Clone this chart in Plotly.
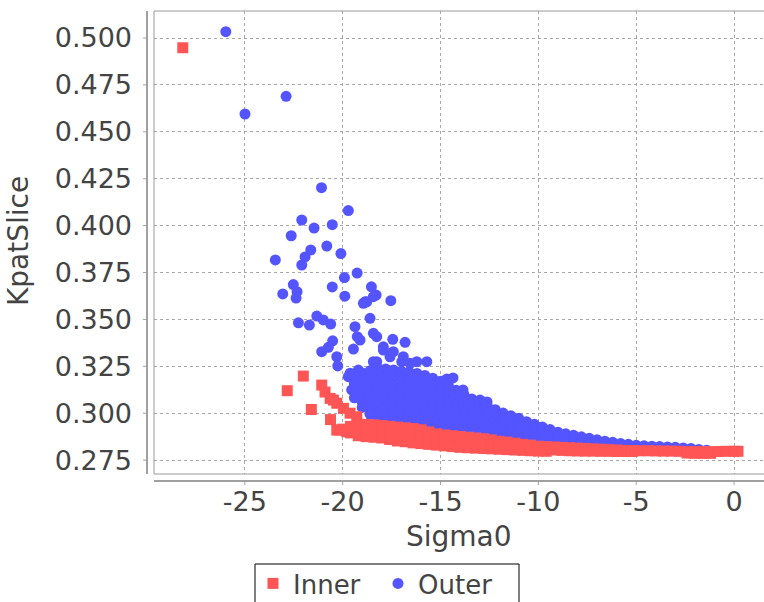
import plotly.graph_objects as go

# ---------------- data ----------------
x_ticks = [-25, -20, -15, -10, -5, 0]
x_tick_labels = ["-25", "-20", "-15", "-10", "-5", "0"]
y_ticks = [0.275, 0.300, 0.325, 0.350, 0.375, 0.400, 0.425, 0.450, 0.475, 0.500]
y_tick_labels = ["0.275", "0.300", "0.325", "0.350", "0.375", "0.400", "0.425", "0.450", "0.475", "0.500"]

# Outer (blue circles) - scattered points
outer_sparse_x = [-25.97, -24.99, -22.89, -21.08, -19.71, -22.09, -21.46, -20.53, -22.63, -20.81,
                  -21.63, -20.09, -21.92, -22.09, -23.44, -19.91, -19.26, -22.52, -23.06, -22.33,
                  -22.38, -20.53, -19.89, -18.53, -18.29, -18.86, -17.54, -18.60, -22.26, -21.70,
                  -21.32, -20.99, -20.61, -19.37, -19.25, -20.51, -21.07, -20.73, -20.30, -20.25,
                  -19.45, -18.26, -17.92, -17.44, -16.81, -16.90, -16.21, -15.70, -18.26, -17.58,
                  -19.62, -19.20, -19.54, -14.68, -14.36, -13.85, -12.98, -12.62, -18.43, -19.71,
                  -18.94, -18.43, -18.77, -19.11, -17.92, -17.41, -18.43, -16.98, -16.56]
outer_sparse_y = [0.5034, 0.4595, 0.4689, 0.4202, 0.4080, 0.4030, 0.3987, 0.4005, 0.3946, 0.3891,
                  0.3870, 0.3851, 0.3833, 0.3790, 0.3817, 0.3723, 0.3747, 0.3686, 0.3636, 0.3648,
                  0.3614, 0.3673, 0.3624, 0.3674, 0.3630, 0.3594, 0.3600, 0.3506, 0.3482, 0.3470,
                  0.3518, 0.3497, 0.3475, 0.3461, 0.3408, 0.3386, 0.3328, 0.3351, 0.3301, 0.3252,
                  0.3342, 0.3408, 0.3354, 0.3394, 0.3378, 0.3301, 0.3275, 0.3275, 0.3275, 0.3301,
                  0.3213, 0.3230, 0.3124, 0.3182, 0.3188, 0.3124, 0.3070, 0.3060, 0.3426, 0.3195,
                  0.3586, 0.3621, 0.3594, 0.3390, 0.3337, 0.3328, 0.3275, 0.3275, 0.3266]

# Outer - dense band, one column of points per Sigma0 value
outer_band_col_x = [-19.4, -19.0, -18.6, -18.2, -17.8, -17.4, -17.0, -16.6, -16.2, -15.8,
                    -15.4, -15.0, -14.6, -14.2, -13.8, -13.4, -13.0, -12.6, -12.2, -11.8,
                    -11.4, -11.0, -10.6, -10.2, -9.8, -9.4, -9.0, -8.6, -8.2, -7.8,
                    -7.4, -7.0, -6.6, -6.2, -5.8, -5.4, -5.0, -4.6, -4.2, -3.8,
                    -3.4, -3.0, -2.6, -2.2, -1.8, -1.4]
outer_band_col_y = [
    [0.3198, 0.3157, 0.3118, 0.3082],
    [0.3214, 0.3171, 0.3133, 0.3096, 0.3058, 0.3031],
    [0.3226, 0.3183, 0.3147, 0.3104, 0.3066, 0.3027, 0.2994],
    [0.3239, 0.3202, 0.3158, 0.3121, 0.3079, 0.3041, 0.3002, 0.2969],
    [0.3236, 0.3193, 0.3156, 0.3113, 0.3077, 0.3034, 0.2996, 0.2961],
    [0.3231, 0.3192, 0.3148, 0.3111, 0.3069, 0.3031, 0.2988, 0.2954],
    [0.3224, 0.3186, 0.3143, 0.3106, 0.3064, 0.3026, 0.2986, 0.2951],
    [0.3219, 0.3178, 0.3141, 0.3098, 0.3061, 0.3019, 0.2981, 0.2944],
    [0.3212, 0.3171, 0.3133, 0.3091, 0.3053, 0.3011, 0.2973, 0.2939],
    [0.3201, 0.3159, 0.3122, 0.3079, 0.3041, 0.3001, 0.2962, 0.2929],
    [0.3187, 0.3149, 0.3107, 0.3069, 0.3027, 0.2989, 0.2949, 0.2916],
    [0.3171, 0.3129, 0.3091, 0.3049, 0.3011, 0.2969, 0.2932, 0.2901],
    [0.3149, 0.3111, 0.3071, 0.3035, 0.2995, 0.2959, 0.2921, 0.2894],
    [0.3123, 0.3085, 0.3051, 0.3013, 0.2979, 0.2941, 0.2907, 0.2887],
    [0.3099, 0.3063, 0.3031, 0.2995, 0.2963, 0.2927, 0.2893],
    [0.3076, 0.3041, 0.3010, 0.2975, 0.2944, 0.2909, 0.2881],
    [0.3053, 0.3019, 0.2989, 0.2955, 0.2925, 0.2891, 0.2874],
    [0.3036, 0.3003, 0.2974, 0.2941, 0.2912, 0.2879],
    [0.3019, 0.2987, 0.2959, 0.2927, 0.2899, 0.2867],
    [0.3001, 0.2970, 0.2943, 0.2912, 0.2885, 0.2859],
    [0.2986, 0.2956, 0.2930, 0.2900, 0.2874, 0.2851],
    [0.2973, 0.2944, 0.2919, 0.2890, 0.2865, 0.2844],
    [0.2955, 0.2929, 0.2906, 0.2879, 0.2855, 0.2837],
    [0.2941, 0.2916, 0.2894, 0.2869, 0.2846, 0.2831],
    [0.2927, 0.2903, 0.2882, 0.2857, 0.2835],
    [0.2913, 0.2890, 0.2869, 0.2845, 0.2827],
    [0.2899, 0.2876, 0.2857, 0.2833, 0.2821],
    [0.2890, 0.2868, 0.2849, 0.2826],
    [0.2882, 0.2861, 0.2843, 0.2821],
    [0.2874, 0.2854, 0.2837, 0.2817],
    [0.2866, 0.2847, 0.2831, 0.2814],
    [0.2858, 0.2840, 0.2825, 0.2811],
    [0.2851, 0.2833, 0.2817],
    [0.2845, 0.2827, 0.2811],
    [0.2839, 0.2822, 0.2807],
    [0.2834, 0.2818, 0.2805],
    [0.2829, 0.2814, 0.2803],
    [0.2826, 0.2811],
    [0.2824, 0.2809],
    [0.2822, 0.2807],
    [0.2820, 0.2805],
    [0.2818, 0.2804],
    [0.2815, 0.2803],
    [0.2812, 0.2802],
    [0.2807],
    [0.2803],
]

# Inner (red squares) - scattered points
inner_sparse_x = [-28.17, -22.83, -22.01, -21.07, -21.60, -20.90, -20.64, -20.30, -19.96, -19.62,
                  -19.28, -20.62, -20.30, -20.13, -19.79, -20.47]
inner_sparse_y = [0.4948, 0.3120, 0.3198, 0.3150, 0.3020, 0.3113, 0.3079, 0.3053, 0.3026, 0.3000,
                  0.2981, 0.2966, 0.2910, 0.2910, 0.2901, 0.3070]

# Inner - dense band, one column of points per Sigma0 value
inner_band_col_x = [-20.0, -19.6, -19.2, -18.8, -18.4, -18.0, -17.6, -17.2, -16.8, -16.4,
                    -16.0, -15.6, -15.2, -14.8, -14.4, -14.0, -13.6, -13.2, -12.8, -12.4,
                    -12.0, -11.6, -11.2, -10.8, -10.4, -10.0, -9.6, -9.2, -8.8, -8.4,
                    -8.0, -7.6, -7.2, -6.8, -6.4, -6.0, -5.6, -5.2, -4.8, -4.4,
                    -4.0, -3.6, -3.2, -2.8, -2.4, -2.0, -1.6, -1.2, -0.8, -0.4,
                    0.0, 0.2]
inner_band_col_y = [
    [0.2915],
    [0.2930, 0.2895],
    [0.2942, 0.2905, 0.2880],
    [0.2940, 0.2905, 0.2875],
    [0.2938, 0.2900, 0.2872],
    [0.2934, 0.2900, 0.2868],
    [0.2930, 0.2895, 0.2860],
    [0.2926, 0.2890, 0.2852],
    [0.2922, 0.2885, 0.2848],
    [0.2918, 0.2880, 0.2842],
    [0.2912, 0.2875, 0.2838],
    [0.2900, 0.2868, 0.2834],
    [0.2890, 0.2860, 0.2830],
    [0.2884, 0.2855, 0.2826],
    [0.2880, 0.2850, 0.2822],
    [0.2876, 0.2846, 0.2818],
    [0.2872, 0.2842, 0.2816],
    [0.2868, 0.2838, 0.2814],
    [0.2864, 0.2836, 0.2812],
    [0.2858, 0.2832, 0.2810],
    [0.2850, 0.2828, 0.2808],
    [0.2846, 0.2826, 0.2806],
    [0.2840, 0.2820, 0.2804],
    [0.2834, 0.2816, 0.2802],
    [0.2830, 0.2812, 0.2800],
    [0.2824, 0.2808, 0.2798],
    [0.2822, 0.2806, 0.2797],
    [0.2820, 0.2804],
    [0.2818, 0.2802],
    [0.2816, 0.2800],
    [0.2814, 0.2799],
    [0.2812, 0.2798],
    [0.2810, 0.2798],
    [0.2808, 0.2797],
    [0.2806, 0.2797],
    [0.2804, 0.2796],
    [0.2802, 0.2796],
    [0.2801, 0.2796],
    [0.2800],
    [0.2800],
    [0.2799],
    [0.2798],
    [0.2798],
    [0.2797],
    [0.2795, 0.2788],
    [0.2795, 0.2786],
    [0.2795, 0.2786],
    [0.2795, 0.2786],
    [0.2796],
    [0.2797],
    [0.2797],
    [0.2797],
]

# ---------------- assemble series ----------------
def flatten(col_x, col_y):
    xs, ys = [], []
    for cx, cys in zip(col_x, col_y):
        for cy in cys:
            xs.append(cx)
            ys.append(cy)
    return xs, ys

ob_x, ob_y = flatten(outer_band_col_x, outer_band_col_y)
ib_x, ib_y = flatten(inner_band_col_x, inner_band_col_y)
outer_x = outer_sparse_x + ob_x
outer_y = outer_sparse_y + ob_y
inner_x = inner_sparse_x + ib_x
inner_y = inner_sparse_y + ib_y

RED = "#FF5555"
BLUE = "#5555FF"
TXT = "#444444"
FONT = "DejaVu Sans"

fig = go.Figure()
fig.add_trace(go.Scatter(x=outer_x, y=outer_y, mode="markers", name="Outer",
                         marker=dict(symbol="circle", size=11, color=BLUE, line=dict(width=0))))
fig.add_trace(go.Scatter(x=inner_x, y=inner_y, mode="markers", name="Inner",
                         marker=dict(symbol="square", size=11, color=RED, line=dict(width=0))))

W, H = 764, 602
ML, MR, MT, MB = 154, 0, 11, 128
PW, PH = W - ML - MR, H - MT - MB
BOT = MT + PH  # pixel row of plot bottom


def px_x(p):
    return (p - ML) / PW


def px_y(p):
    return (BOT - p) / PH


grid = dict(showgrid=True, gridcolor="#a8a8a8", gridwidth=1, griddash="3px,3px",
            zeroline=False, showline=False, ticks="",
            tickfont=dict(family=FONT, size=27, color=TXT))

fig.update_layout(
    width=W, height=H, autosize=False,
    margin=dict(l=ML, r=MR, t=MT, b=MB, pad=0, autoexpand=False),
    paper_bgcolor="white", plot_bgcolor="white",
    font=dict(family=FONT, color=TXT),
    showlegend=True,
    legend=dict(orientation="h", x=px_x(253), y=px_y(560),
                xanchor="left", yanchor="top", traceorder="reversed",
                borderwidth=0, bgcolor="rgba(0,0,0,0)",
                entrywidth=80, entrywidthmode="pixels",
                font=dict(family=FONT, size=26, color=TXT)),
    xaxis=dict(range=[-29.64, 1.53], tickvals=x_ticks, ticktext=x_tick_labels,
               ticklabelstandoff=9, **grid),
    yaxis=dict(range=[0.2676, 0.5144], tickvals=y_ticks, ticktext=y_tick_labels,
               ticklabelstandoff=21, **grid),
)

# axis titles
fig.add_annotation(text="Sigma0", xref="paper", yref="paper", x=0.5, y=px_y(536),
                   xanchor="center", yanchor="middle", showarrow=False,
                   font=dict(family=FONT, size=28, color=TXT))
fig.add_annotation(text="KpatSlice", xref="paper", yref="paper", x=px_x(18), y=0.503,
                   xanchor="center", yanchor="middle", showarrow=False, textangle=-90,
                   font=dict(family=FONT, size=28, color=TXT))

# plot outline, offset axis lines (JFreeChart style) and legend frame
OUT = "#999999"
AX = "#a0a0a0"
shapes = [
    dict(type="line", xref="paper", yref="paper", x0=0, x1=1, y0=1, y1=1, line=dict(color=OUT, width=1)),
    dict(type="line", xref="paper", yref="paper", x0=0, x1=0, y0=0, y1=1, line=dict(color=OUT, width=1)),
    dict(type="line", xref="paper", yref="paper", x0=0, x1=1, y0=0, y1=0, line=dict(color=OUT, width=1)),
    dict(type="line", xref="paper", yref="paper", x0=px_x(147), x1=px_x(147), y0=0, y1=1,
         line=dict(color=AX, width=2)),
    dict(type="line", xref="paper", yref="paper", x0=0, x1=1, y0=px_y(481), y1=px_y(481),
         line=dict(color=AX, width=2)),
    dict(type="rect", xref="paper", yref="paper", x0=px_x(255), x1=px_x(519),
         y0=px_y(564), y1=px_y(615), line=dict(color="black", width=1), fillcolor="rgba(0,0,0,0)"),
]
for v in y_ticks:
    shapes.append(dict(type="line", xref="paper", yref="y", x0=px_x(147), x1=px_x(143), y0=v, y1=v,
                       line=dict(color=AX, width=1)))
for v in x_ticks:
    shapes.append(dict(type="line", xref="x", yref="paper", x0=v, x1=v, y0=px_y(481), y1=px_y(485),
                       line=dict(color=AX, width=1)))
fig.update_layout(shapes=shapes)

fig.write_html("out.html", config={"displayModeBar": False},
               post_script="document.body.style.margin='0';document.body.style.overflow='hidden';")
